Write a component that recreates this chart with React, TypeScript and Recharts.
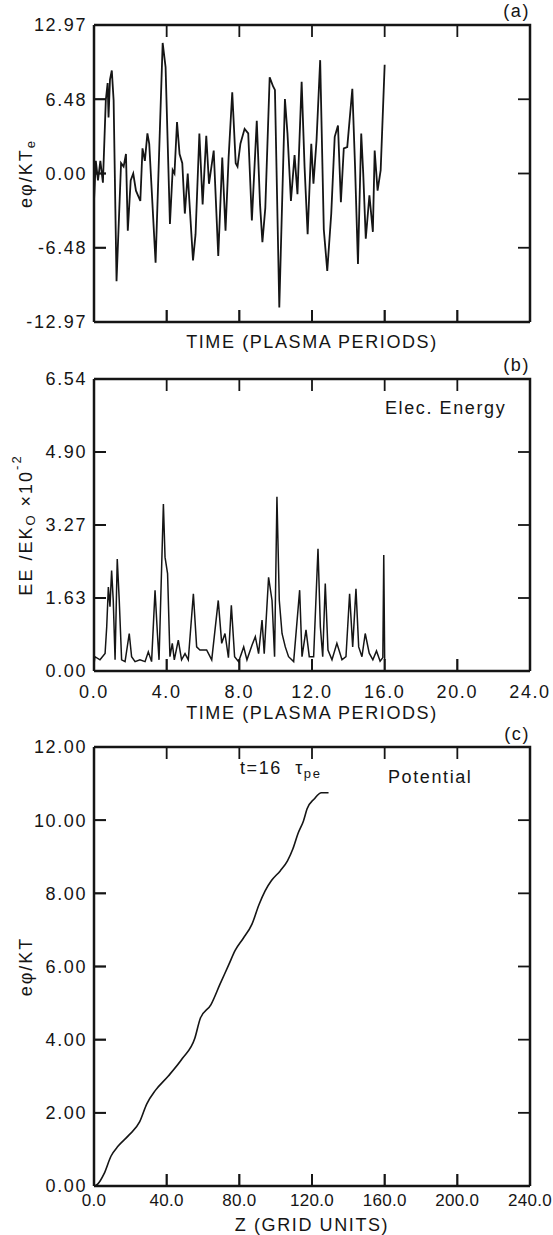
import { Label, Line, LineChart, XAxis, YAxis } from "recharts";

// panel (a): potential at a probe vs time
const A_TIME = [
  0, 0.1, 0.22, 0.35, 0.49, 0.65, 0.75, 0.8, 0.88, 0.98,
  1.08, 1.24, 1.49, 1.63, 1.76, 1.86, 2.02, 2.16, 2.31, 2.55,
  2.67, 2.8, 2.94, 3.04, 3.39, 3.78, 3.94, 4.18, 4.33, 4.43,
  4.57, 4.71, 4.86, 5.0, 5.16, 5.25, 5.45, 5.59, 5.8, 5.98,
  6.18, 6.33, 6.59, 6.84, 7.06, 7.24, 7.41, 7.61, 7.8, 7.9,
  8.06, 8.29, 8.49, 8.69, 8.96, 9.14, 9.27, 9.43, 9.67, 9.86,
  9.96, 10.2, 10.51, 10.65, 10.84, 11.04, 11.2, 11.43, 11.59, 11.76,
  11.96, 12.08, 12.25, 12.45, 12.65, 12.84, 13.06, 13.25, 13.43, 13.59,
  13.75, 13.94, 14.22, 14.37, 14.53, 14.71, 14.82, 14.96, 15.16, 15.35,
  15.45, 15.61, 15.78, 16.0,
];
const A_PHI = [
  -2.4, 1.1, -0.6, 1.1, -0.8, 6.4, 7.9, 4.9, 8.2, 9.0,
  6.4, -9.4, 0.9, 0.6, 1.7, -5.0, -0.6, 0.0, -1.5, -2.4,
  2.2, 1.1, 3.5, 2.6, -7.8, 11.4, 9.3, -4.4, 0.3, 0.0,
  4.5, 1.7, 0.9, -3.5, 0.0, -2.4, -7.6, -5.3, 3.5, -2.7,
  3.3, -0.9, 2.0, -7.2, 1.4, -5.0, 1.4, 7.1, 0.9, 0.6,
  2.6, 3.9, 3.5, -4.1, 4.6, -2.7, -6.0, -3.0, 8.4, 7.6,
  7.3, -11.7, 6.5, 3.5, -2.4, 1.6, -1.8, 8.0, 0.6, -5.3,
  2.6, -0.9, 2.9, 9.9, -4.9, -8.5, -3.5, 3.2, 4.2, -2.5,
  2.2, 2.3, 7.4, 0.6, -7.9, 3.5, 0.0, -5.7, -1.9, -5.1,
  2.0, -1.5, 0.3, 9.5,
];

// panel (b): electric field energy vs time
const B_TIME = [
  0, 0.05, 0.33, 0.61, 0.7, 0.79, 0.88, 0.97, 1.06, 1.16,
  1.28, 1.39, 1.52, 1.71, 1.94, 2.07, 2.26, 2.53, 2.81, 2.99,
  3.17, 3.36, 3.49, 3.58, 3.82, 3.91, 4.05, 4.18, 4.31, 4.42,
  4.64, 4.82, 5.01, 5.19, 5.47, 5.65, 5.83, 6.2, 6.48, 6.84,
  7.03, 7.21, 7.4, 7.56, 7.74, 7.96, 8.24, 8.42, 8.7, 8.88,
  9.06, 9.25, 9.37, 9.61, 9.8, 9.94, 10.07, 10.2, 10.35, 10.53,
  10.71, 10.99, 11.32, 11.45, 11.67, 11.85, 12.09, 12.33, 12.46, 12.59,
  12.73, 12.88, 13.1, 13.37, 13.65, 13.87, 14.07, 14.24, 14.42, 14.57,
  14.75, 14.93, 15.15, 15.35, 15.55, 15.75, 15.9, 15.95, 16.0,
];
const B_ENERGY = [
  0.15, 0.32, 0.25, 0.39, 0.99, 1.88, 1.44, 2.25, 1.58, 0.25,
  2.51, 1.58, 0.25, 0.21, 0.84, 0.32, 0.21, 0.25, 0.21, 0.43,
  0.21, 1.81, 0.84, 0.25, 3.74, 2.55, 2.18, 0.32, 0.62, 0.25,
  0.69, 0.25, 0.39, 0.25, 1.73, 0.54, 0.47, 0.47, 0.25, 1.58,
  0.62, 0.84, 0.3, 1.47, 0.32, 0.21, 0.54, 0.25, 0.58, 0.77,
  0.39, 1.14, 0.39, 2.1, 1.58, 0.32, 3.9, 1.58, 0.84, 0.54,
  0.32, 0.21, 1.81, 0.32, 0.92, 0.32, 0.32, 2.74, 0.99, 0.32,
  1.96, 0.47, 0.25, 0.62, 0.25, 0.32, 1.73, 0.54, 1.84, 0.54,
  0.32, 0.84, 0.4, 0.25, 0.45, 0.22, 0.3, 2.6, 0.25,
];

// panel (c): potential profile at t = 16
const C_Z = [
  0.5, 2.0, 5.5, 9.4, 13.3, 19.2, 25.1, 29.0, 33.9, 40.8,
  48.7, 55.5, 58.5, 64.4, 69.3, 74.2, 77.7, 82.0, 86.9, 90.8,
  94.2, 97.7, 102.6, 106.5, 109.5, 112.4, 115.3, 117.3, 121.2, 125.2,
  129.1,
];
const C_PHI = [
  0, 0.05, 0.33, 0.82, 1.09, 1.39, 1.75, 2.24, 2.62, 3.0,
  3.49, 4.04, 4.58, 4.96, 5.51, 6.05, 6.44, 6.76, 7.15, 7.69,
  8.07, 8.35, 8.62, 8.89, 9.22, 9.65, 9.98, 10.31, 10.58, 10.75,
  10.75,
];

const TIME_TICKS = [0, 4, 8, 12, 16, 20, 24];
const Z_TICKS = [0, 40, 80, 120, 160, 200, 240];
const A_TICKS = [-12.97, -6.485, 0, 6.485, 12.97];
const A_TICK_LABELS = ["-12.97", "-6.48", "0.00", "6.48", "12.97"];
const B_TICKS = [0, 1.635, 3.27, 4.905, 6.54];
const B_TICK_LABELS = ["0.00", "1.63", "3.27", "4.90", "6.54"];
const C_TICKS = [0, 2, 4, 6, 8, 10, 12];

const aData = A_TIME.map((t, i) => ({ t, v: A_PHI[i] }));
const bData = B_TIME.map((t, i) => ({ t, v: B_ENERGY[i] }));
const cData = C_Z.map((z, i) => ({ t: z, v: C_PHI[i] }));

const INK = "#151515";
const W = 553;
const LEFT = 94;
const PLOT_RIGHT = 530;
const PLOT_W = PLOT_RIGHT - LEFT;
const TICK = 12;

const axisLineStyle = { stroke: INK, strokeWidth: 2.5 };
const tickLineStyle = { stroke: INK, strokeWidth: 1.8 };
const tickText = { fill: INK, fontSize: 18 };
const blank = () => "";

const yTitle = (kind: "a" | "b" | "c") => (props: any) => {
  const vb = props.viewBox || { y: 0, height: 0 };
  const cx = 27;
  const cy = vb.y + vb.height / 2;
  const sub = { fontSize: 13 };
  return (
    <text
      x={cx}
      y={cy}
      transform={`rotate(-90 ${cx} ${cy})`}
      textAnchor="middle"
      dominantBaseline="middle"
      fill={INK}
      fontSize={18}
      style={{ letterSpacing: 2 }}
    >
      {kind === "a" && (
        <>
          eφ/KT<tspan dy={5} {...sub}>e</tspan>
        </>
      )}
      {kind === "b" && (
        <>
          EE /EK<tspan dy={5} {...sub}>O</tspan>
          <tspan dy={-5}> ×10</tspan>
          <tspan dy={-9} {...sub}>-2</tspan>
        </>
      )}
      {kind === "c" && <>eφ/KT</>}
    </text>
  );
};

const Note = ({ x, y, right, children, size = 18 }: any) => (
  <div
    style={{
      position: "absolute",
      left: right ? undefined : x,
      right: right ? W - x : undefined,
      top: y,
      transform: "translateY(-50%)",
      fontSize: size,
      lineHeight: "20px",
      whiteSpace: "nowrap",
      color: INK,
    }}
  >
    {children}
  </div>
);

type PanelProps = {
  top: number;
  height: number;
  plotTop: number;
  plotBottom: number;
  data: { t: number; v: number }[];
  xTicks: number[];
  xDomain: [number, number];
  xLabels: boolean;
  xTickMargin: number;
  xTickStyle?: any;
  xTitle: string;
  titleOffset: number;
  yTicks: number[];
  yDomain: [number, number];
  yFormat: (v: number, i: number) => string;
  kind: "a" | "b" | "c";
  curve: "linear" | "monotone";
  lineWidth: number;
};

// the box round the plot: top and right edges plus inward ticks on all sides
const Frame = ({ p }: { p: PanelProps }) => {
  const top = p.plotTop - p.top;
  const plotH = p.plotBottom - p.plotTop;
  const bottom = top + plotH;
  const [x0, x1] = p.xDomain;
  const [y0, y1] = p.yDomain;
  const sx = (v: number) => LEFT + ((v - x0) / (x1 - x0)) * PLOT_W;
  const sy = (v: number) => bottom - ((v - y0) / (y1 - y0)) * plotH;
  return (
    <svg
      width={W}
      height={p.height}
      style={{ position: "absolute", left: 0, top: 0, pointerEvents: "none" }}
    >
      <g stroke={INK} fill="none">
        <path d={`M${LEFT},${top}H${PLOT_RIGHT}V${bottom}`} strokeWidth={2.5} />
        {p.xTicks.map((v) => (
          <g key={`x${v}`} strokeWidth={1.8}>
            <line x1={sx(v)} x2={sx(v)} y1={top} y2={top + TICK} />
            <line x1={sx(v)} x2={sx(v)} y1={bottom} y2={bottom - TICK} />
          </g>
        ))}
        {p.yTicks.map((v) => (
          <g key={`y${v}`} strokeWidth={1.8}>
            <line x1={LEFT} x2={LEFT + TICK} y1={sy(v)} y2={sy(v)} />
            <line x1={PLOT_RIGHT} x2={PLOT_RIGHT - TICK} y1={sy(v)} y2={sy(v)} />
          </g>
        ))}
      </g>
    </svg>
  );
};

const Panel = (p: PanelProps) => {
  const axisH = p.top + p.height - p.plotBottom;
  const headH = p.plotTop - p.top;
  return (
    <div style={{ position: "absolute", left: 0, top: p.top, width: W, height: p.height }}>
      <div style={{ position: "absolute", left: 0, top: 0 }}>
        <LineChart
          width={W}
          height={p.height}
          data={p.data}
          margin={{ top: headH, right: W - PLOT_RIGHT, bottom: 0, left: 0 }}
        >
          <XAxis
            dataKey="t"
            type="number"
            domain={p.xDomain}
            ticks={p.xTicks}
            interval={0}
            height={axisH}
            allowDataOverflow
            axisLine={axisLineStyle}
            tickLine={tickLineStyle}
            tickSize={-TICK}
            tickMargin={p.xTickMargin}
            tick={p.xTickStyle || tickText}
            tickFormatter={p.xLabels ? (v: number) => v.toFixed(1) : blank}
          >
            <Label
              value={p.xTitle}
              position="insideBottom"
              offset={p.titleOffset}
              fill={INK}
              fontSize={18}
            />
          </XAxis>
          <YAxis
            type="number"
            dataKey="v"
            domain={p.yDomain}
            ticks={p.yTicks}
            interval={0}
            width={LEFT}
            allowDataOverflow
            axisLine={axisLineStyle}
            tickLine={tickLineStyle}
            tickSize={-TICK}
            tickMargin={19}
            tick={tickText}
            tickFormatter={p.yFormat}
          >
            <Label content={yTitle(p.kind)} />
          </YAxis>
          <Line
            dataKey="v"
            type={p.curve}
            stroke={INK}
            strokeWidth={p.lineWidth}
            dot={false}
            isAnimationActive={false}
          />
        </LineChart>
      </div>
      <Frame p={p} />
    </div>
  );
};

export default function App() {
  return (
    <div
      style={{
        position: "absolute",
        left: 0,
        top: 0,
        width: W,
        height: 1235,
        background: "#fff",
        fontFamily: '"Liberation Sans", Arial, sans-serif',
        fontSize: 18,
        letterSpacing: 1.6,
        color: INK,
      }}
    >
      <Panel
        top={0}
        height={360}
        plotTop={25}
        plotBottom={322}
        data={aData}
        xTicks={TIME_TICKS}
        xDomain={[0, 24]}
        xLabels={false}
        xTickMargin={21}
        xTitle="TIME (PLASMA PERIODS)"
        titleOffset={12}
        yTicks={A_TICKS}
        yDomain={[-12.97, 12.97]}
        yFormat={(_v, i) => A_TICK_LABELS[i]}
        kind="a"
        curve="linear"
        lineWidth={1.8}
      />
      <Panel
        top={360}
        height={375}
        plotTop={379}
        plotBottom={671}
        data={bData}
        xTicks={TIME_TICKS}
        xDomain={[0, 24]}
        xLabels={true}
        xTickMargin={26}
        xTitle="TIME (PLASMA PERIODS)"
        titleOffset={16}
        yTicks={B_TICKS}
        yDomain={[0, 6.54]}
        yFormat={(_v, i) => B_TICK_LABELS[i]}
        kind="b"
        curve="linear"
        lineWidth={1.5}
      />
      <Panel
        top={735}
        height={500}
        plotTop={747}
        plotBottom={1186}
        data={cData}
        xTicks={Z_TICKS}
        xDomain={[0, 240]}
        xLabels={true}
        xTickMargin={20}
        xTickStyle={{ fill: INK, fontSize: 17, letterSpacing: 0.3, style: { letterSpacing: 0.3 } }}
        xTitle="Z (GRID UNITS)"
        titleOffset={4}
        yTicks={C_TICKS}
        yDomain={[0, 12]}
        yFormat={(v) => v.toFixed(2)}
        kind="c"
        curve="monotone"
        lineWidth={1.6}
      />
      <Note x={530} y={11} right>(a)</Note>
      <Note x={530} y={365} right>(b)</Note>
      <Note x={530} y={734} right>(c)</Note>
      <Note x={385} y={408}>Elec. Energy</Note>
      <Note x={240} y={771}>
        t=16&nbsp;&nbsp;τ<sub style={{ fontSize: 13 }}>pe</sub>
      </Note>
      <Note x={388} y={777}>Potential</Note>
    </div>
  );
}
